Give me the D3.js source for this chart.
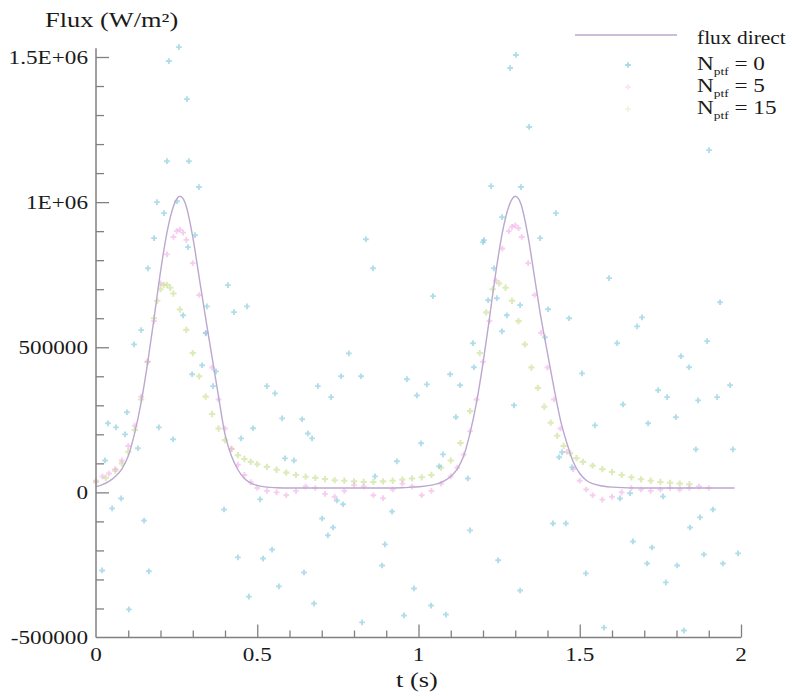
<!DOCTYPE html>
<html>
<head>
<meta charset="utf-8">
<script src="https://cdn.jsdelivr.net/npm/d3@7"></script>
<style>
  html, body { margin: 0; padding: 0; background: #fff; }
  svg { display: block; }
  text { font-family: "Liberation Serif", "Times New Roman", serif; fill: #1a1a1a; }
</style>
</head>
<body>
<svg id="chart" width="791" height="696"></svg>
<script>
// ---------------- data ----------------
const xTickValues = [0, 0.5, 1, 1.5, 2];
const xTickLabels = ["0", "0.5", "1", "1.5", "2"];
const yTickValues = [-500000, 0, 500000, 1000000, 1500000];
const yTickLabels = ["-500000", "0", "500000", "1E+06", "1.5E+06"];
const seriesNames = ["flux direct", "0", "5", "15"];

// flux direct (line)
const directT = [0,0.02,0.04,0.06,0.08,0.10,0.12,0.14,0.16,0.18,0.20,0.22,0.24,0.25,0.26,0.27,0.28,0.30,0.32,0.34,0.36,0.38,0.40,0.42,0.44,0.46,0.48,0.50,0.53,0.56,0.60,0.70,0.80,0.90,0.95,0.98,1.01,1.04,1.06,1.08,1.10,1.12,1.14,1.16,1.18,1.20,1.22,1.24,1.26,1.28,1.29,1.30,1.31,1.32,1.34,1.36,1.38,1.40,1.42,1.44,1.46,1.48,1.50,1.52,1.54,1.57,1.60,1.70,1.80,1.90,1.98];
const directV = [20000,27000,38000,55000,80000,125000,205000,310000,445000,600000,760000,895000,985000,1010000,1020000,1012000,985000,880000,740000,600000,465000,330000,200000,125000,78000,48000,32000,24000,18000,16000,15000,15000,15000,15000,16000,18000,20000,25000,30000,40000,55000,80000,125000,205000,310000,445000,600000,760000,895000,985000,1010000,1020000,1012000,985000,880000,740000,600000,480000,360000,250000,170000,105000,65000,42000,30000,22000,18000,15000,15000,15000,15000];

// N_ptf = 0 (scattered points)
const n0T = [0.257,0.226,0.282,0.220,0.288,0.319,0.189,0.251,0.211,0.180,0.307,0.285,0.161,0.409,0.270,0.428,0.468,0.140,0.118,0.344,0.341,0.329,0.298,0.372,0.363,0.530,0.555,0.688,0.760,0.729,0.784,0.096,0.062,0.037,0.090,0.195,0.239,0.130,0.577,0.639,0.657,0.670,0.487,0.450,0.586,0.614,0.028,0.078,0.050,0.149,0.397,0.509,0.747,0.766,0.701,0.164,0.019,0.102,0.440,0.518,0.546,0.567,0.474,0.645,0.676,0.735,0.719,0.918,0.896,0.887,0.986,0.955,0.825,
  0.837,0.859,1.045,1.200,1.234,1.216,1.243,1.315,1.274,1.259,1.169,0.822,0.964,1.026,0.995,1.098,1.129,1.172,1.116,1.296,1.008,1.076,1.064,0.933,1.153,0.865,
  1.302,1.284,1.343,1.225,1.318,1.259,1.203,
  1.426,1.377,1.591,1.467,1.402,1.392,1.935,1.693,1.678,1.616,1.895,1.814,1.839,1.507,1.966,1.926,1.743,1.771,1.867,1.634,1.798,1.712,1.547,1.860,1.975,1.445,1.436,1.476,1.625,1.656,1.758,1.913,1.873,1.842,1.417,1.457,1.665,1.724,1.885,1.991,1.709,1.802,1.944,1.767,1.519,
  1.039,1.085,1.575,1.823,1.160,1.247,1.315,1.901];
const n0V = [1534000,1486000,1355000,1141000,1141000,1052000,1000000,1003000,962000,876000,886000,845000,772000,714000,610000,621000,641000,559000,510000,641000,548000,438000,407000,417000,366000,366000,341000,366000,400000,328000,479000,276000,224000,238000,200000,224000,183000,152000,255000,252000,203000,186000,221000,186000,117000,110000,110000,-21000,-55000,-97000,-59000,-24000,-28000,-41000,-90000,-272000,-269000,-403000,-224000,-228000,-197000,-324000,-359000,-276000,-383000,-121000,-148000,-66000,-179000,-252000,-331000,-424000,-448000,
  872000,772000,676000,862000,772000,662000,669000,645000,610000,555000,514000,400000,390000,372000,334000,407000,369000,431000,259000,300000,169000,131000,90000,107000,48000,55000,
  1507000,1462000,1259000,1055000,1052000,948000,869000,
  962000,876000,738000,600000,631000,534000,655000,603000,572000,514000,521000,469000,431000,410000,369000,328000,352000,328000,317000,303000,259000,238000,231000,148000,148000,138000,121000,86000,-21000,-3000,-14000,-59000,-86000,-121000,-107000,-107000,-169000,-190000,-214000,-210000,-245000,-252000,-245000,-310000,-279000,
  -390000,-421000,-466000,-476000,-131000,-234000,-338000,1179000];

// N_ptf = 5
const n5T = [0,0.02,0.04,0.06,0.08,0.10,0.12,0.14,0.16,0.18,0.20,0.22,0.24,0.25,0.26,0.27,0.28,0.30,0.32,0.34,0.36,0.38,0.40,0.42,0.44,0.46,0.48,0.50,0.53,0.56,0.59,0.62,0.65,0.68,0.71,0.74,0.77,0.80,0.83,0.86,0.89,0.92,0.95,0.98,1.01,1.04,1.07,1.10,1.12,1.14,1.16,1.18,1.20,1.22,1.24,1.26,1.28,1.29,1.30,1.31,1.32,1.34,1.36,1.38,1.40,1.42,1.44,1.46,1.48,1.50,1.52,1.54,1.57,1.60,1.63,1.66,1.69,1.72,1.75,1.78,1.81,1.84,1.87,1.90];
const n5V = [40000,55000,65000,80000,110000,160000,230000,330000,450000,590000,720000,820000,880000,900000,905000,895000,870000,790000,680000,550000,430000,320000,220000,150000,95000,60000,35000,15000,5000,0,-10000,5000,20000,15000,-5000,-15000,5000,25000,20000,-10000,-20000,10000,30000,20000,-10000,5000,30000,55000,85000,130000,210000,320000,450000,590000,730000,840000,900000,915000,920000,910000,880000,790000,680000,550000,430000,320000,220000,140000,80000,40000,10000,-10000,-25000,-15000,0,15000,10000,5000,10000,15000,10000,15000,20000,15000];

// N_ptf = 15
const n15T = [0,0.03,0.06,0.08,0.10,0.12,0.14,0.16,0.18,0.19,0.20,0.21,0.22,0.23,0.24,0.26,0.28,0.30,0.32,0.34,0.36,0.38,0.40,0.42,0.44,0.46,0.48,0.50,0.53,0.56,0.59,0.62,0.65,0.68,0.71,0.74,0.77,0.80,0.83,0.86,0.89,0.92,0.95,0.98,1.01,1.04,1.07,1.10,1.13,1.16,1.19,1.21,1.23,1.25,1.27,1.29,1.31,1.33,1.35,1.37,1.39,1.41,1.43,1.45,1.47,1.49,1.51,1.54,1.57,1.60,1.63,1.66,1.69,1.72,1.75,1.78,1.81,1.84];
const n15V = [35000,50000,75000,100000,140000,215000,320000,450000,600000,660000,700000,715000,715000,705000,685000,630000,560000,480000,400000,330000,270000,220000,180000,150000,128000,115000,105000,97000,88000,78000,68000,60000,54000,50000,46000,42000,40000,38000,36000,36000,38000,40000,44000,48000,52000,60000,85000,110000,170000,280000,480000,620000,700000,720000,705000,660000,590000,510000,430000,360000,295000,240000,195000,160000,135000,118000,105000,92000,80000,70000,60000,52000,45000,40000,36000,33000,30000,28000];

// ---------------- drawing ----------------
const svg = d3.select("#chart");
const x = d3.scaleLinear().domain([0, 2]).range([96, 741]);
const y = d3.scaleLinear().domain([-500000, 1500000]).range([637.5, 57]);
const yTop = 1530000;

const colors = { direct: "#bba8cf", n0: "#86cbdd", n5: "#f2abe6", n15: "#cfe29c" };
const axisColor = "#808080";
const SX = 1.22; // horizontal stretch of the reference lettering

function stext(parent, px, py, str, anchor, size, sx) {
  const g = parent.append("g").attr("transform", `translate(${px},${py}) scale(${sx || SX},1)`);
  return g.append("text").attr("x", 0).attr("y", 0)
    .attr("text-anchor", anchor || "start")
    .style("font-size", (size || 19) + "px")
    .text(str);
}

// ---- markers ----
const cross = d3.symbol().type(d3.symbolCross);
function drawPoints(T, V, color, size, op) {
  svg.append("g").selectAll("path").data(T.map((t, i) => [t, V[i]])).join("path")
    .attr("transform", d => `translate(${x(d[0])},${y(d[1])})`)
    .attr("d", cross.size(size)())
    .attr("fill", color)
    .attr("opacity", op);
}
drawPoints(n15T, n15V, colors.n15, 22, 0.7);
drawPoints(n5T, n5V, colors.n5, 18, 0.6);
drawPoints(n0T, n0V, colors.n0, 18, 0.65);

// ---- line ----
const line = d3.line().x(d => x(d[0])).y(d => y(d[1])).curve(d3.curveMonotoneX);
svg.append("path")
  .datum(directT.map((t, i) => [t, directV[i]]))
  .attr("d", line)
  .attr("fill", "none")
  .attr("stroke", colors.direct)
  .attr("stroke-width", 1.4);

// ---- axes ----
const xMinor = d3.range(1, 20).map(i => i / 10).filter(v => Math.abs(v * 2 - Math.round(v * 2)) > 1e-9);
const yMinor = d3.range(-4, 15).map(i => i * 100000).filter(v => v % 500000 !== 0);

const gx = svg.append("g").attr("transform", `translate(0,${y(-500000)})`);
gx.append("g").call(d3.axisBottom(x).tickValues(xMinor).tickSize(-7).tickFormat("").tickSizeOuter(0));
gx.append("g").call(d3.axisBottom(x).tickValues(xTickValues.slice(1)).tickSize(-13).tickFormat("").tickSizeOuter(0));

const gy = svg.append("g").attr("transform", `translate(${x(0)},0)`);
gy.append("g").call(d3.axisLeft(y).tickValues(yMinor).tickSize(-8).tickFormat("").tickSizeOuter(0));
gy.append("g").call(d3.axisLeft(y).tickValues(yTickValues.slice(1)).tickSize(-13).tickFormat("").tickSizeOuter(0));

svg.selectAll(".domain").remove();
svg.selectAll(".tick line").attr("stroke", axisColor).attr("stroke-width", 1.3);

// axis lines
svg.append("line").attr("x1", x(0)).attr("x2", x(2)).attr("y1", y(-500000)).attr("y2", y(-500000))
  .attr("stroke", axisColor).attr("stroke-width", 1.5);
svg.append("line").attr("x1", x(0)).attr("x2", x(0)).attr("y1", y(-500000)).attr("y2", y(yTop))
  .attr("stroke", axisColor).attr("stroke-width", 1.5);

// tick labels
xTickValues.forEach((v, i) => stext(svg, x(v), 661, xTickLabels[i], "middle"));
yTickValues.forEach((v, i) => stext(svg, 88, y(v) + 6.5, yTickLabels[i], "end"));

// axis titles
stext(svg, 45, 27, "Flux (W/m²)", "start", 20, 1.32);
stext(svg, 396, 687, "t (s)", "start", 20, 1.32);

// ---- legend ----
svg.append("line").attr("x1", 575).attr("x2", 677).attr("y1", 35).attr("y2", 35)
  .attr("stroke", colors.direct).attr("stroke-width", 1.4);
stext(svg, 697, 44, seriesNames[0], "start", 19, 1.13);

const legRows = [
  { label: seriesNames[1], color: colors.n0, y: 70, op: 0.7 },
  { label: seriesNames[2], color: colors.n5, y: 92, op: 0.3 },
  { label: seriesNames[3], color: colors.n15, y: 114, op: 0.3 }
];
legRows.forEach(r => {
  svg.append("path").attr("transform", `translate(628,${r.y - 5})`)
    .attr("d", cross.size(18)()).attr("fill", r.color).attr("opacity", r.op);
  const t = stext(svg, 697, r.y, "N", "start");
  t.append("tspan").attr("dy", 5).style("font-size", "11px").text("ptf");
  t.append("tspan").attr("dy", -5).text(" = " + r.label);
});
</script>
</body>
</html>
